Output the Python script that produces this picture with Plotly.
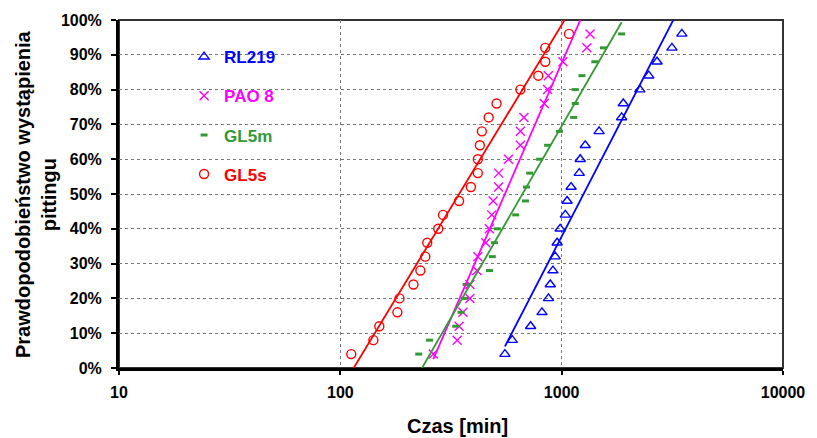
import numpy as np
import plotly.graph_objects as go

# probability of pitting occurrence (fraction)
prob = [0.04, 0.08, 0.12, 0.16, 0.20, 0.24, 0.28, 0.32, 0.36, 0.40, 0.44, 0.48,
        0.52, 0.56, 0.60, 0.64, 0.68, 0.72, 0.76, 0.80, 0.84, 0.88, 0.92, 0.96]

# time to pitting [min] for each oil
rl219 = [554, 598, 724, 815, 872, 888, 913, 935, 954, 984, 1039, 1058,
         1103, 1201, 1213, 1278, 1476, 1866, 1899, 2254, 2474, 2697, 3149, 3491]
pao8 = [263, 337, 344, 358, 385, 385, 414, 418, 454, 471, 483, 490,
        519, 519, 575, 651, 651, 675, 834, 864, 870, 1013, 1300, 1343]
gl5m = [226, 253, 332, 351, 364, 370, 472, 486, 497, 512, 620, 686,
        693, 717, 795, 864, 977, 1133, 1152, 1152, 1235, 1412, 1545, 1866]
gl5s = [112, 141, 150, 181, 185, 214, 230, 242, 247, 277, 291, 344,
        389, 418, 418, 427, 436, 468, 508, 651, 784, 843, 843, 1080]

series_names = ["RL219", "PAO 8", "GL5m", "GL5s"]
series_data = [rl219, pao8, gl5m, gl5s]
colors = ["#0000FF", "#FF00FF", "#339933", "#FF0000"]
symbols = ["triangle-up-open", "x-thin-open", "line-ew-open", "circle-open"]
sizes = [9, 9, 5, 9]
mlw = [1.4, 1.4, 3, 1.4]

x_ticks = [10, 100, 1000, 10000]
x_ticktext = ["10", "100", "1000", "10000"]

FONT = "Liberation Sans, Arial, sans-serif"

fig = go.Figure()

for i, (name, data) in enumerate(zip(series_names, series_data)):
    fig.add_trace(go.Scatter(
        x=data, y=prob, mode="markers",
        name='<span style="color:%s">%s</span>' % (colors[i], name),
        legendgroup=name,
        marker=dict(symbol=symbols[i], size=sizes[i], color=colors[i],
                    line=dict(color=colors[i], width=mlw[i])),
    ))

# logarithmic trend lines (least squares of probability on log time)
for i, (name, data) in enumerate(zip(series_names, series_data)):
    lx = np.log10(np.array(data, dtype=float))
    b, a = np.polyfit(lx, np.array(prob), 1)
    xs = np.array([min(data), max(data)], dtype=float)
    ys = a + b * np.log10(xs)
    fig.add_trace(go.Scatter(
        x=xs, y=ys, mode="lines", showlegend=False, hoverinfo="skip",
        line=dict(color=colors[i], width=1.8),
    ))

fig.update_layout(
    width=817, height=438,
    margin=dict(l=119, r=28, t=20, b=70),
    paper_bgcolor="white", plot_bgcolor="white",
    font=dict(family=FONT, color="black"),
    showlegend=True,
    legend=dict(
        x=0.098, y=0.945, xanchor="left", yanchor="top",
        bgcolor="rgba(0,0,0,0)", borderwidth=0,
        font=dict(family=FONT, size=17, weight="bold"),
        tracegroupgap=14, traceorder="grouped",
        itemwidth=30,
    ),
    xaxis=dict(
        type="log", range=[1, 4],
        tickvals=x_ticks, ticktext=x_ticktext,
        tickfont=dict(family=FONT, size=16, weight="bold", color="black"),
        showline=True, linecolor="black", linewidth=3,
        ticks="outside", ticklen=4, tickwidth=2, tickcolor="black",
        showgrid=True, gridcolor="#777777", gridwidth=1, griddash="dot",
        zeroline=False,
        ticklabelstandoff=4,
    ),
    yaxis=dict(
        range=[0, 1], dtick=0.1, tickformat=".0%",
        tickfont=dict(family=FONT, size=16, weight="bold", color="black"),
        showline=True, linecolor="black", linewidth=3,
        ticks="outside", ticklen=5, tickwidth=2, tickcolor="black",
        showgrid=True, gridcolor="#777777", gridwidth=1, griddash="dot",
        zeroline=False,
        ticklabelstandoff=6,
    ),
    shapes=[dict(type="rect", xref="x domain", yref="y domain",
                 x0=0, x1=1, y0=0, y1=1, layer="below",
                 line=dict(color="#333333", width=2))],
    annotations=[
        dict(text="<b>Czas [min]</b>", xref="paper", yref="paper",
             x=0.51, y=-0.168, xanchor="center", yanchor="middle",
             showarrow=False, font=dict(family=FONT, size=20, color="black")),
        dict(text="<b>Prawdopodobieństwo wystąpienia<br>pittingu</b>",
             xref="paper", yref="paper", x=-0.125, y=0.5,
             xanchor="center", yanchor="middle", textangle=-90,
             showarrow=False,
             font=dict(family=FONT, size=20, color="black")),
    ],
)

fig.write_html("out.html")
